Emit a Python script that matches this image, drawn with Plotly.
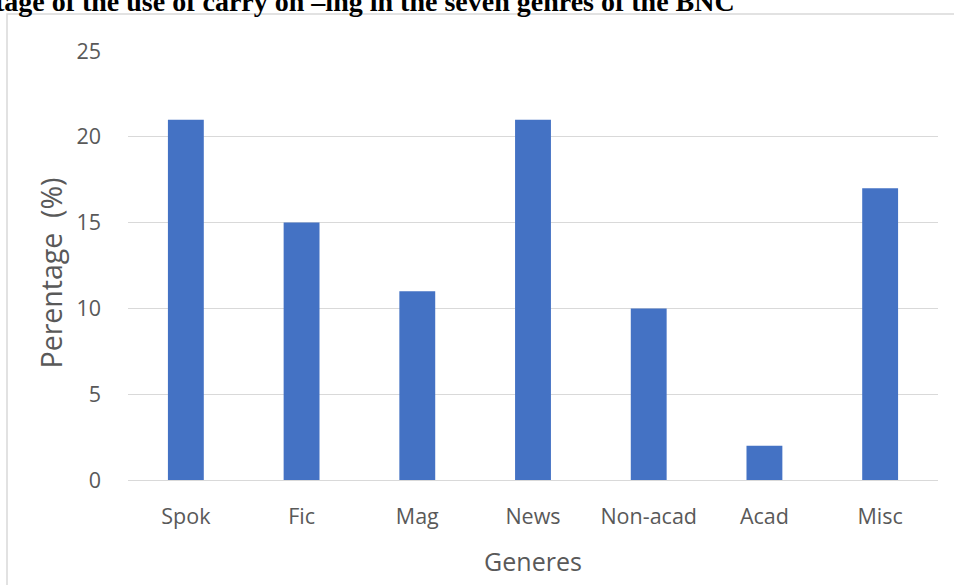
import plotly.graph_objects as go

categories = ["Spok", "Fic", "Mag", "News", "Non-acad", "Acad", "Misc"]
percentages = [21, 15, 11, 21, 10, 2, 17]
y_ticks = [0, 5, 10, 15, 20, 25]

title_text = "Percentage of the use of carry on \u2013ing in the seven genres of the BNC"
y_title = "Perentage \u00a0(%)"
x_title = "Generes"

W, H = 954, 585
L, R, T, B = 128, 16, 51, 105
pw, ph = W - L - R, H - T - B

def px_x(x):
    return (x - L) / pw

def px_y(y):
    return (H - B - y) / ph

fig = go.Figure(go.Bar(x=categories, y=percentages, marker_color="#4472C4",
                       marker_line_width=0))

fig.update_layout(
    width=W, height=H,
    margin=dict(l=L, r=R, t=T, b=B, pad=0),
    plot_bgcolor="white", paper_bgcolor="white",
    bargap=0.69,
    showlegend=False,
    font=dict(family="Open Sans", size=21.5, color="#595959"),
    xaxis=dict(
        title=dict(text=x_title, font=dict(size=25), standoff=24),
        showgrid=False, showline=False, zeroline=False,
        ticks="", ticklabelstandoff=21,
    ),
    yaxis=dict(
        range=[0, 25], tickvals=y_ticks,
        showgrid=True, gridcolor="#d9d9d9", gridwidth=1,
        zeroline=True, zerolinecolor="#d9d9d9", zerolinewidth=1,
        showline=False, ticks="", ticklabelstandoff=26,
    ),
    shapes=[dict(
        type="rect", xref="paper", yref="paper",
        x0=px_x(7), x1=px_x(980), y0=px_y(620), y1=px_y(14),
        line=dict(color="#d9d9d9", width=1.5), fillcolor="rgba(0,0,0,0)",
        layer="below",
    )],
    annotations=[
        dict(
            text="<b>" + title_text + "</b>",
            xref="paper", yref="paper",
            x=px_x(737), y=px_y(19),
            xanchor="right", yanchor="bottom",
            showarrow=False,
            font=dict(family="Liberation Serif", size=28.0, color="black"),
        ),
        dict(
            text=y_title,
            xref="paper", yref="paper",
            x=px_x(50), y=px_y(273.5),
            xanchor="center", yanchor="middle",
            textangle=-90, showarrow=False,
            font=dict(family="Open Sans", size=28.5, color="#595959"),
        ),
    ],
)

fig.write_html("out.html", config={"displayModeBar": False},
               post_script="document.body.style.margin='0';")
